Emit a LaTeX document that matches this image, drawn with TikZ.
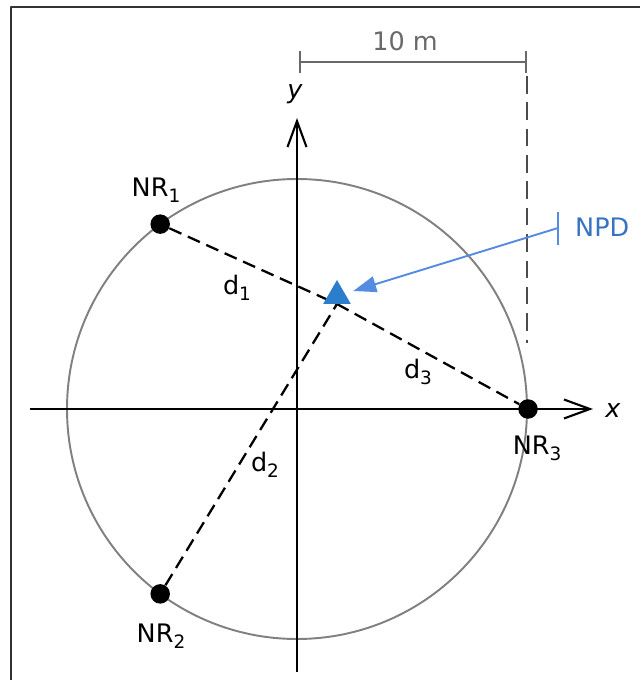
\documentclass[tikz,border=0pt]{standalone}
\usepackage{fontspec}
\setmainfont{DejaVu Sans}
\usetikzlibrary{arrows.meta,shapes.geometric}

\definecolor{npdblue}{RGB}{45,125,205}
\definecolor{npdline}{RGB}{85,140,225}
\definecolor{npdtext}{RGB}{55,115,195}
\definecolor{dimgray}{RGB}{105,105,105}

\newcommand{\lowidx}[1]{\raisebox{-0.45ex}{\fontsize{10.5}{11}\selectfont #1}}

\begin{document}
\begin{tikzpicture}[
  line join=round,
  every node/.style={font=\fontsize{14.5}{16}\selectfont},
  axis/.style={line width=1.2pt,-{Straight Barb[length=0.52cm,width=0.38cm]}},
  rangecircle/.style={line width=1.1pt,draw=black!50},
  dist/.style={line width=1.3pt,dash pattern=on 7.5pt off 4pt},
  guide/.style={line width=1.1pt,draw=black!70,dash pattern=on 10pt off 5pt},
  measure/.style={line width=1.1pt,draw=dimgray},
  receiver/.style={circle,fill=black,inner sep=0pt,minimum size=0.39cm},
  device/.style={regular polygon,regular polygon sides=3,fill=npdblue,
    inner sep=0pt,outer sep=0pt,minimum size=0.64cm,anchor=south}
]
\useasboundingbox (-5.94,-5.42) rectangle (6.86,8.18);

% ------------------------------------------------------------------
% Frame and circle
% ------------------------------------------------------------------
\draw[line width=1.2pt,black!80] (-5.72,-5.42) -- (-5.72,8.04) -- (6.86,8.04);
\draw[rangecircle] (0,0) circle (4.6);

% ------------------------------------------------------------------
% Axes
% ------------------------------------------------------------------
\coordinate (XL) at (-5.34,0);
\coordinate (XR) at (5.92,0);
\coordinate (YB) at (0,-5.26);
\coordinate (YT) at (0,5.82);
\draw[axis] (XL) -- (XR);
\draw[axis] (YB) -- (YT);
\node (xlab) at (6.32,-0.04) {\itshape x};
\node (ylab) at (-0.04,6.30) {\itshape y};

% ------------------------------------------------------------------
% Receivers and distances
% ------------------------------------------------------------------
\node[receiver] (NR1) at (126.5:4.6) {};
\node[receiver] (NR2) at (233.5:4.6) {};
\node[receiver] (NR3) at (0:4.62) {};
\coordinate (P) at (0.80,2.10);

\draw[dist] (NR1) -- (P);
\draw[dist] (NR2) -- (P);
\draw[dist] (P) -- (NR3);
\node[device] (NPD) at (P) {};

\node (lab1) at (-2.82,4.38) {NR\lowidx{1}};
\node (lab2) at (-2.72,-4.54) {NR\lowidx{2}};
\node (lab3) at (4.80,-0.78) {NR\lowidx{3}};
\node (d1) at (-1.20,2.42) {d\lowidx{1}};
\node (d2) at (-0.64,-1.12) {d\lowidx{2}};
\node (d3) at (2.42,0.74) {d\lowidx{3}};

% ------------------------------------------------------------------
% Radius and NPD pointer
% ------------------------------------------------------------------
\coordinate (M0) at (0.04,6.94);
\coordinate (M1) at (4.60,6.94);
\draw[measure,{Bar[width=0.44cm]}-{Bar[width=0.44cm]}] (M0) -- (M1);
\draw[guide] (4.60,6.66) -- (4.60,1.32);
\node[text=dimgray] (dim) at (2.16,7.36) {10 m};

\coordinate (T) at (5.22,3.62);
\draw[npdline,line width=1.1pt] (5.22,3.94) -- (5.22,3.28);
\draw[npdline,line width=1.1pt,shorten >=5pt,
  -{Triangle[length=0.46cm,width=0.32cm]}] (T) -- (NPD);
\node[text=npdtext,anchor=west] (npdlab) at (5.44,3.64) {NPD};

\end{tikzpicture}
\end{document}
